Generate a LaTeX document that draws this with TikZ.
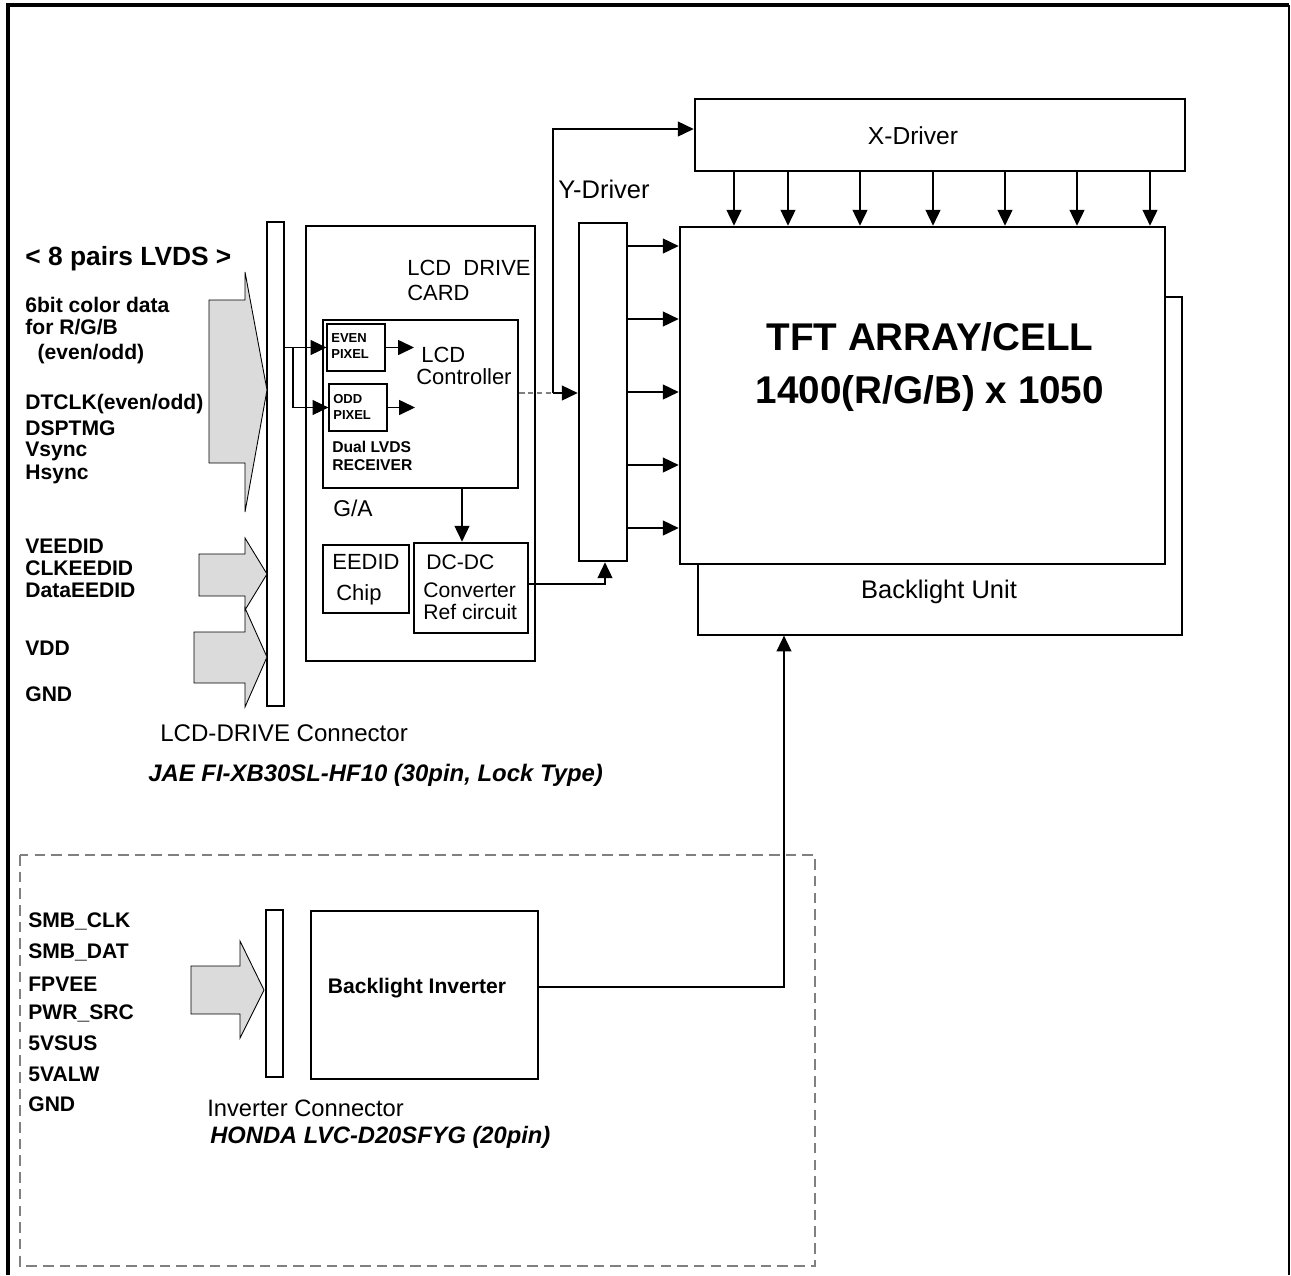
\documentclass[tikz,border=0pt]{standalone}
\usepackage{fontspec}
\setmainfont{Liberation Sans}
\usetikzlibrary{arrows.meta}
\usetikzlibrary{fit}

\begin{document}
\begin{tikzpicture}[x=0.02cm,y=-0.02cm,
    thinbox/.style={draw,line width=0.7pt,inner sep=0pt},
    thickbox/.style={draw,line width=1.5pt,inner sep=0pt},
    sig/.style={line width=0.7pt,-{Triangle[length=9pt,width=8.5pt]}},
    fatarrow/.style={draw,line width=0.5pt,fill=black!14},
    pinlbl/.style={anchor=west,inner sep=0pt,font=\fontsize{12}{14}\selectfont\bfseries},
    tinylbl/.style={anchor=west,inner sep=0pt,align=left,font=\fontsize{7.4}{9.2}\selectfont\bfseries},
    txt/.style={inner sep=0pt,font=\fontsize{13}{15}\selectfont}]
  \useasboundingbox (0,0) rectangle (1291,1275);
  \draw[line width=2pt] (8,1275) -- (8,5) -- (1289,5);
  \draw[line width=1pt] (1289,5) -- (1289,1275);

  % panel, backlight and drivers
  \node[thinbox,fit={(698,297) (1182,635)}] (bklt) {};
  \node[thickbox,fill=white,fit={(680,227) (1165,564)}] (tft) {};
  \node[thickbox,fit={(695,99) (1185,171)}] (xdrv) {};
  \node[thickbox,fit={(579,223) (627,561)}] (ydrv) {};
  \node[txt,font=\fontsize{14}{16}\selectfont] (xlbl) at (913,136) {X-Driver};
  \node[txt,font=\fontsize{14.5}{16}\selectfont] (ylbl) at (604,189) {Y-Driver};
  \node[txt,font=\fontsize{14.5}{16}\selectfont] (blbl) at (939,592) {Backlight Unit};
  \node[inner sep=0pt,align=center,font=\fontsize{22}{30}\selectfont\bfseries] (tftlbl)
    at (930,367) {TFT ARRAY/CELL\\1400(R/G/B) x 1050};
  \foreach \x in {734,788,860,933,1005,1077,1150} {
    \path (\x,0) coordinate (c);
    \draw[sig] (c |- xdrv.south) -- (c |- tft.north);
  }
  \foreach \y in {246,319,392,465,528} {
    \path (0,\y) coordinate (r);
    \draw[sig] (r -| ydrv.east) -- (r -| tft.west);
  }

  % LCD drive card
  \node[thickbox,fit={(306,226) (535,661)}] (card) {};
  \node[txt,anchor=west,align=left,font=\fontsize{12.5}{14.2}\selectfont] (cardlbl)
    at (407,280) {LCD\ \ DRIVE\\CARD};
  \node[thickbox,fit={(323,320) (518,488)}] (ctrl) {};
  \node[thinbox,fit={(327,324) (385,371)}] (even) {};
  \node[thinbox,fit={(329,384) (387,431)}] (odd) {};
  \node[tinylbl] (evenlbl) at (331,346) {EVEN\\PIXEL};
  \node[tinylbl] (oddlbl) at (333,407) {ODD\\PIXEL};
  \node[txt,anchor=west,font=\fontsize{12.5}{14}\selectfont] (ctrllbl1) at (421,355) {LCD};
  \node[txt,anchor=west,font=\fontsize{12.5}{14}\selectfont] (ctrllbl2) at (416,377) {Controller};
  \node[anchor=west,inner sep=0pt,align=left,font=\fontsize{8.9}{10.2}\selectfont\bfseries] (rxlbl)
    at (332,456) {Dual LVDS\\RECEIVER};
  \node[txt,anchor=west] (galbl) at (333,508) {G/A};
  \node[thinbox,fit={(323,545) (409,613)}] (eedid) {};
  \node[thickbox,fit={(414,543) (528,633)}] (dcdc) {};
  \node[txt,anchor=west,font=\fontsize{12.5}{14}\selectfont] (eedidlbl1) at (332,562) {EEDID};
  \node[txt,anchor=west,font=\fontsize{12.5}{14}\selectfont] (eedidlbl2) at (336,595) {Chip};
  \node[txt,anchor=west,font=\fontsize{12}{14}\selectfont] (dcdclbl1) at (426,562) {DC-DC};
  \node[txt,anchor=west,font=\fontsize{12}{14}\selectfont] (dcdclbl2) at (423,590) {Converter};
  \node[txt,anchor=west,font=\fontsize{12}{14}\selectfont] (dcdclbl3) at (423,612) {Ref circuit};

  % LCD-DRIVE connector and signals
  \node[thinbox,fit={(267,222) (284,706)}] (conn) {};
  \coordinate (split) at (293,348);
  \draw[sig] (conn.east |- even.west) -- (even.west);
  \draw[sig] (split) |- (odd.west);
  \coordinate (evenend) at (414,348);
  \coordinate (oddend) at (415,408);
  \draw[sig] (even.east) -- (even.east -| evenend);
  \draw[sig] (odd.east) -- (odd.east -| oddend);
  \coordinate (tap) at (462,0);
  \draw[sig] (ctrl.south -| tap) -- (dcdc.north -| tap);
  \coordinate (jn) at (553,393);
  \draw[line width=0.7pt,gray,dash pattern=on 3pt off 2pt] (jn -| ctrl.east) -- (jn);
  \draw[sig] (jn) -- (jn -| ydrv.west);
  \draw[sig] (jn) |- ([yshift=0.12cm]xdrv.west);
  \coordinate (yin) at (605,0);
  \draw[sig] ([yshift=0.08cm]dcdc.east) -| (yin |- ydrv.south);

  \draw[fatarrow] (209,300) -- (245,300) -- (245,272) -- (267,390) -- (245,512) -- (245,463) -- (209,463) -- cycle;
  \draw[fatarrow] (199,554) -- (245,554) -- (245,538) -- (267,574) -- (245,610) -- (245,596) -- (199,596) -- cycle;
  \draw[fatarrow] (194,632) -- (245,632) -- (245,608) -- (267,657) -- (245,707) -- (245,683) -- (194,683) -- cycle;

  \node[pinlbl,font=\fontsize{15}{17}\selectfont\bfseries] (lvds) at (25,259) {< 8 pairs LVDS >};
  \foreach \y/\t [count=\i] in {305/{6bit color data},327/{for R/G/B},354/{\hspace{7pt}(even/odd)},
      404/{DTCLK(even/odd)},428/DSPTMG,451/Vsync,474/Hsync,
      546/VEEDID,568/CLKEEDID,590/DataEEDID,648/VDD,694/GND}
    \node[pinlbl] (pin\i) at (25,\y) {\t};
  \node[txt,anchor=west,font=\fontsize{13.7}{15}\selectfont] (connlbl) at (160,733) {LCD-DRIVE Connector};
  \node[txt,anchor=west,font=\fontsize{13.6}{15}\selectfont\bfseries\itshape] (connpart)
    at (148,775) {JAE FI-XB30SL-HF10 (30pin, Lock Type)};

  % inverter
  \draw[gray,line width=0.6pt,dash pattern=on 6pt off 3.5pt] (20,855) rectangle (815,1266);
  \node[thinbox,fit={(266,910) (283,1077)}] (iconn) {};
  \node[thinbox,fit={(311,911) (538,1079)}] (inv) {};
  \node[pinlbl,anchor=center] (invlbl) at (417,988) {Backlight Inverter};
  \draw[fatarrow] (191,966) -- (240,966) -- (240,941) -- (264,990) -- (240,1038) -- (240,1014) -- (191,1014) -- cycle;
  \coordinate (bl) at (784,0);
  \draw[sig] ([yshift=0.16cm]inv.east) -| (bl |- bklt.south);
  \foreach \y/\t [count=\i] in {921/SMB\_CLK,952/SMB\_DAT,984/FPVEE,1013/PWR\_SRC,
      1043/5VSUS,1074/5VALW,1104/GND}
    \node[pinlbl] (ipin\i) at (28,\y) {\t};
  \node[txt,anchor=west,font=\fontsize{13.5}{15}\selectfont] (iconnlbl) at (207,1108) {Inverter Connector};
  \node[txt,anchor=west,font=\fontsize{13.5}{15}\selectfont\bfseries\itshape] (iconnpart)
    at (210,1137) {HONDA LVC-D20SFYG (20pin)};
\end{tikzpicture}
\end{document}
